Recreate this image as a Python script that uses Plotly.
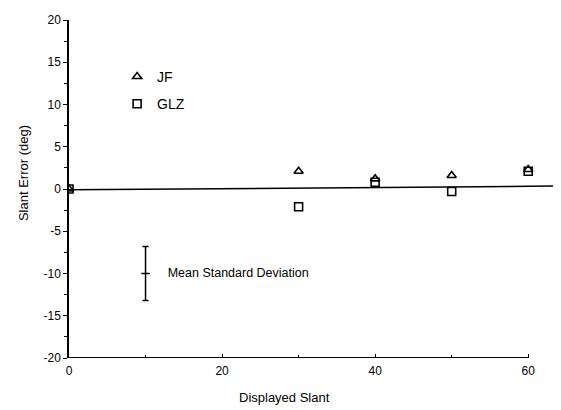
import plotly.graph_objects as go

slant = [0, 30, 40, 50, 60]
jf_err = [0, 2.1, 1.2, 1.6, 2.3]
glz_err = [0, -2.1, 0.8, -0.3, 2.1]
fit_x = [0, 63.5]
fit_y = [-0.1, 0.35]
sd_x = [10]
sd_y = [-10]
sd_err = [3.2]
sd_label = ["     Mean Standard Deviation"]
x_ticks = [0, 20, 40, 60]
y_ticks = [-20, -15, -10, -5, 0, 5, 10, 15, 20]

FONT = "Liberation Sans, Arial, sans-serif"

fig = go.Figure()
fig.add_trace(go.Scatter(x=fit_x, y=fit_y, mode="lines",
                         line=dict(color="black", width=1.5), showlegend=False, hoverinfo="skip"))
fig.add_trace(go.Scatter(x=slant, y=jf_err, mode="markers", name="JF", legendgroup="a",
                         marker=dict(symbol="triangle-up-open", size=8, color="black",
                                     line=dict(width=1.6, color="black"))))
fig.add_trace(go.Scatter(x=slant, y=glz_err, mode="markers", name="GLZ", legendgroup="b",
                         marker=dict(symbol="square-open", size=8, color="black",
                                     line=dict(width=1.6, color="black"))))
fig.add_trace(go.Scatter(x=sd_x, y=sd_y, mode="markers+text", showlegend=False,
                         marker=dict(symbol="line-ew-open", size=6, color="black",
                                     line=dict(width=1.5, color="black")),
                         error_y=dict(type="data", array=sd_err, visible=True,
                                      color="black", thickness=1.5, width=3),
                         text=sd_label, textposition="middle right",
                         textfont=dict(family=FONT, size=12.5, color="black")))

# bottom axis line (axis ends at 60 while plot extends further)
fig.add_shape(type="line", xref="x", yref="y", x0=0, x1=60, y0=-20, y1=-20,
              line=dict(color="black", width=2))

# axis titles as annotations (placed as in the original)
fig.add_annotation(text="Displayed Slant", xref="paper", yref="paper", x=0.444, y=-0.118,
                   xanchor="center", yanchor="middle", showarrow=False,
                   font=dict(family=FONT, size=13, color="black"))
fig.add_annotation(text="Slant Error (deg)", xref="paper", yref="paper", x=-0.0947, y=0.547,
                   xanchor="center", yanchor="middle", showarrow=False, textangle=-90,
                   font=dict(family=FONT, size=13, color="black"))

fig.update_layout(
    width=561, height=410,
    margin=dict(l=61, r=14, t=12, b=60),
    paper_bgcolor="white", plot_bgcolor="white",
    font=dict(family=FONT, size=12, color="black"),
    showlegend=True,
    legend=dict(x=0.099, y=0.879, xanchor="left", yanchor="top",
                bgcolor="rgba(0,0,0,0)", font=dict(size=14, family=FONT),
                traceorder="grouped", tracegroupgap=6, itemwidth=30),
    xaxis=dict(range=[0, 63.5], showline=False, showgrid=False, zeroline=False,
               automargin=False, ticklabelstandoff=4,
               tickvals=x_ticks, ticks="inside", ticklen=4, tickcolor="black",
               minor=dict(dtick=10, tick0=0, ticks="inside", ticklen=3, tickcolor="black")),
    yaxis=dict(range=[-20, 20], showline=True, linecolor="black", linewidth=1.5,
               showgrid=False, zeroline=False, automargin=False,
               tickvals=y_ticks, ticktext=[str(v) for v in y_ticks],
               ticks="outside", ticklen=4, tickcolor="black",
               minor=dict(dtick=2.5, tick0=0, ticks="outside", ticklen=3, tickcolor="black")),
)

fig.write_html("out.html")
